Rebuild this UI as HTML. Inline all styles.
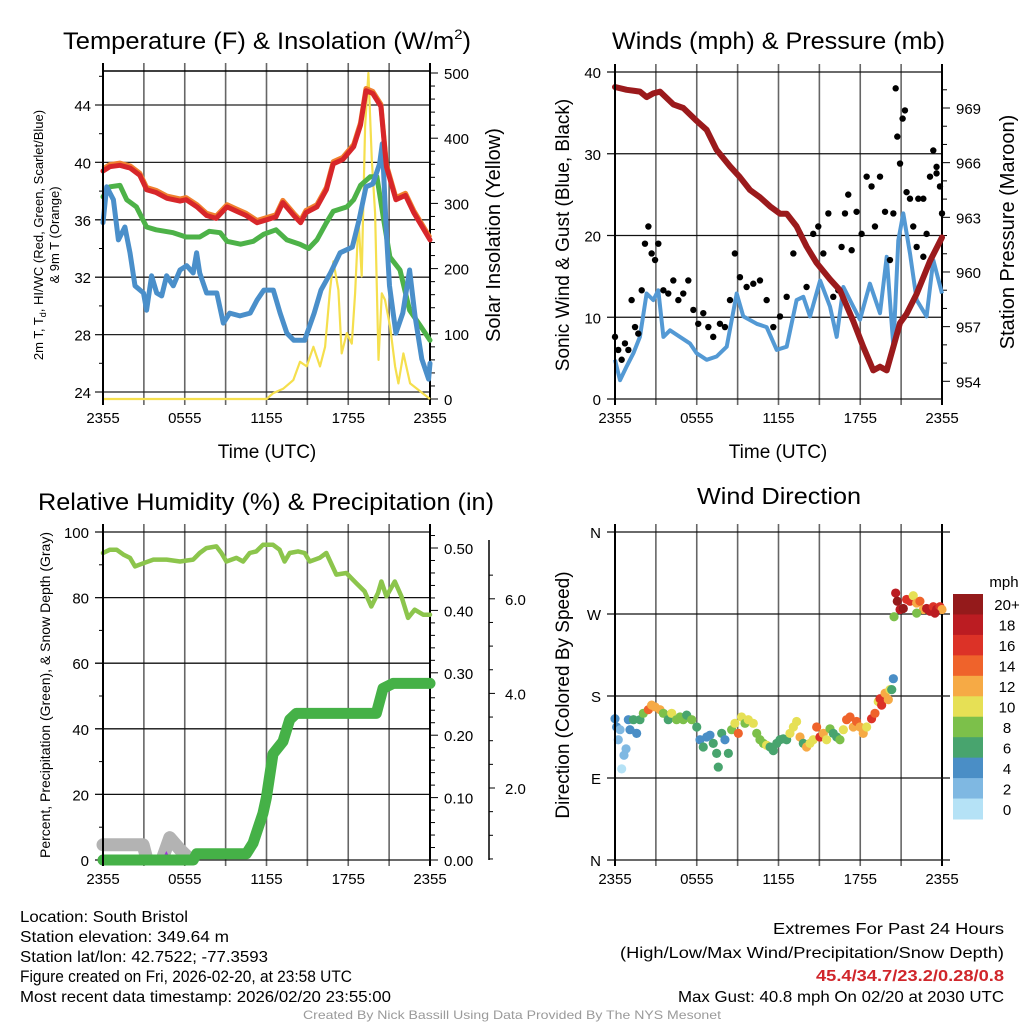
<!DOCTYPE html>
<html><head><meta charset="utf-8"><style>
html,body{margin:0;padding:0;background:#fff;}
svg{display:block;font-family:"Liberation Sans",sans-serif;}
</style></head><body>
<svg id="root" width="1024" height="1024" viewBox="0 0 1024 1024" xmlns="http://www.w3.org/2000/svg">
<defs><clipPath id="clipHum"><rect x="90" y="532" width="340" height="329"/></clipPath></defs>
<rect width="1024" height="1024" fill="#fff"/>
<g fill="#000">
<text x="63" y="49" font-size="24" textLength="408" lengthAdjust="spacingAndGlyphs">Temperature (F) &amp; Insolation (W/m<tspan font-size="14" dy="-10">2</tspan><tspan dy="10">)</tspan></text>
<text x="612" y="49" font-size="24" textLength="333" lengthAdjust="spacingAndGlyphs">Winds (mph) &amp; Pressure (mb)</text>
<text x="38" y="510" font-size="24" textLength="456" lengthAdjust="spacingAndGlyphs">Relative Humidity (%) &amp; Precipitation (in)</text>
<text x="697" y="504" font-size="23" textLength="164" lengthAdjust="spacingAndGlyphs">Wind Direction</text>
</g>
<g fill="#000">
<text x="267" y="458" font-size="19" text-anchor="middle">Time (UTC)</text>
<text x="778" y="458" font-size="19" text-anchor="middle">Time (UTC)</text>
<text transform="translate(43,235) rotate(-90)" font-size="13" text-anchor="middle">2m T, T<tspan font-size="9" dy="3">d</tspan><tspan dy="-3">, HI/WC (Red, Green, Scarlet/Blue)</tspan></text>
<text transform="translate(59,235) rotate(-90)" font-size="13" text-anchor="middle">&amp; 9m T (Orange)</text>
<text transform="translate(500,235) rotate(-90)" font-size="20" text-anchor="middle">Solar Insolation (Yellow)</text>
<text transform="translate(569,235) rotate(-90)" font-size="19" text-anchor="middle">Sonic Wind &amp; Gust (Blue, Black)</text>
<text transform="translate(1014,232) rotate(-90)" font-size="20" text-anchor="middle">Station Pressure (Maroon)</text>
<text transform="translate(50,695) rotate(-90)" font-size="14" text-anchor="middle">Percent, Precipitation (Green), &amp; Snow Depth (Gray)</text>
<text transform="translate(569,695) rotate(-90)" font-size="19" text-anchor="middle">Direction (Colored By Speed)</text>
</g>
<g fill="#000" font-size="16">
<text x="20" y="922" textLength="168" lengthAdjust="spacingAndGlyphs">Location: South Bristol</text>
<text x="20" y="942" textLength="209" lengthAdjust="spacingAndGlyphs">Station elevation: 349.64 m</text>
<text x="20" y="962" textLength="248" lengthAdjust="spacingAndGlyphs">Station lat/lon: 42.7522; -77.3593</text>
<text x="20" y="982" font-size="16.5" textLength="332" lengthAdjust="spacingAndGlyphs">Figure created on Fri, 2026-02-20, at 23:58 UTC</text>
<text x="20" y="1002" textLength="371" lengthAdjust="spacingAndGlyphs">Most recent data timestamp: 2026/02/20 23:55:00</text>
<text x="1004" y="934" text-anchor="end" textLength="231" lengthAdjust="spacingAndGlyphs">Extremes For Past 24 Hours</text>
<text x="1004" y="958" text-anchor="end" textLength="384" lengthAdjust="spacingAndGlyphs">(High/Low/Max Wind/Precipitation/Snow Depth)</text>
<text x="1004" y="981" text-anchor="end" fill="#d0262b" font-weight="bold" textLength="188" lengthAdjust="spacingAndGlyphs">45.4/34.7/23.2/0.28/0.8</text>
<text x="1004" y="1002" text-anchor="end" textLength="326" lengthAdjust="spacingAndGlyphs">Max Gust: 40.8 mph On 02/20 at 2030 UTC</text>
<text x="512" y="1019" text-anchor="middle" fill="#9a9a9a" font-size="12" textLength="418" lengthAdjust="spacingAndGlyphs">Created By Nick Bassill Using Data Provided By The NYS Mesonet</text>
</g>
</svg>
<script>
// ---------- data ----------
const xTickLabels = ["2355","0555","1155","1755","2355"];
const tempTicks = [24,28,32,36,40,44];
const solarTicks = [0,100,200,300,400,500];
const windTicks = [0,10,20,30,40];
const pressTicks = [954,957,960,963,966,969];
const rhTicks = [0,20,40,60,80,100];
const precipTicks = [0.00,0.10,0.20,0.30,0.40,0.50];
const snowTicks = [2.0,4.0,6.0];
const dirLabels = ["N","E","S","W","N"];
const dirTickDeg = [0,90,180,270,360];
const speedBinLabels = ["0","2","4","6","8","10","12","14","16","18","20+"];
const speedBinColors = ["#b5e2f6","#7fb8e2","#4a8ec6","#48a46e","#7cc04a","#e6e055","#f6aa45","#ef632b","#dc3227","#bb1c22","#941a1b"];

const tempHours = [0,0.5,1.25,2,2.7,3.2,3.9,4.7,5.65,6.1,6.9,7.6,8.3,9.1,9.8,10.5,11.3,12,12.7,13.2,14,14.5,14.9,15.7,16.4,16.9,17.6,18.4,18.9,19.3,19.8,20.4,20.8,21.5,22.2,22.8,23.5,24];
const tempVals = [39.4,39.7,39.8,39.6,39.1,38.1,37.9,37.5,37.3,37.4,36.9,36.3,36.1,36.9,36.6,36.3,35.8,36.0,36.2,37.2,36.3,35.8,36.5,36.9,38.1,39.9,40.2,41.1,42.6,45.0,44.8,43.9,39.7,37.4,37.7,36.5,35.4,34.6];
const dewHours = [0,0.5,1.25,1.74,2.45,3.2,3.9,5.15,6.1,7.1,7.8,8.6,9.1,10.1,11.03,11.8,12.7,13.5,14.45,15.1,15.7,16.4,16.9,17.9,18.4,18.9,19.6,20.1,20.6,21.06,21.8,22.5,23.3,24];
const dewVals = [37.6,38.3,38.4,37.4,36.9,35.5,35.3,35.1,34.8,34.8,35.2,35.1,34.5,34.3,34.5,35.0,35.3,34.6,34.3,34.0,34.6,35.8,36.6,36.9,37.4,38.4,39.0,39.0,36.0,33.4,32.5,29.7,28.6,27.6];
const wcHours = [0,0.27,0.76,1.13,1.61,1.98,2.35,2.97,3.2,3.57,3.94,4.31,4.67,5.16,5.65,6.14,6.62,6.87,7.1,7.6,8.35,8.83,9.3,10.05,10.8,11.3,11.8,12.5,13.0,13.5,14.0,14.8,15.5,16.0,16.7,17.4,18.3,18.8,19.3,19.8,20.3,20.5,20.8,21.03,21.5,22.0,22.5,22.9,23.4,23.9,24];
const wcVals = [35.8,38.3,37.4,34.6,35.5,33.7,31.4,30.9,29.7,32.1,30.9,30.7,32.1,31.4,32.5,32.8,32.3,33.7,32.3,30.9,30.9,28.8,29.5,29.3,29.5,30.4,31.1,31.1,29.5,28.1,27.6,27.6,29.5,31.1,32.3,33.7,34.1,36.0,38.3,38.5,39.9,41.3,35.1,31.4,28.1,29.5,32.5,29.3,26.3,24.9,26.0];
const solarHours = [0,12,12.5,13.24,13.97,14.46,14.95,15.44,15.93,16.3,16.66,16.91,17.28,17.52,17.89,18.26,18.5,18.75,18.99,19.24,19.48,19.73,19.97,20.22,20.46,20.7,21.07,21.44,21.68,22.05,22.54,24];
const solarVals = [0,0,9,16,29,57,50,80,50,80,167,211,167,70,101,85,162,275,188,418,500,367,285,60,162,152,111,50,24,70,24,0];
const pressHours = [0,0.86,1.83,2.32,2.81,3.3,4.28,5.01,5.99,6.73,7.46,8.44,9.17,9.91,10.64,11.38,12.11,12.6,13.33,14.06,14.8,15.78,16.51,17.49,18.22,18.96,19.45,19.94,20.43,20.92,21.4,22.14,23.12,24];
const pressVals = [970.15,970.0,969.9,969.6,969.8,969.9,969.2,969.0,968.3,967.8,966.7,965.8,965.2,964.5,964.1,963.6,963.2,963.2,962.5,961.4,960.5,959.6,959.0,957.3,955.9,954.6,954.8,954.6,955.9,957.2,957.7,958.8,960.6,961.9];
const windHours = [0,0.37,0.86,1.35,1.83,2.32,2.81,3.18,3.55,4.04,4.77,5.5,5.99,6.73,7.46,8.2,8.93,9.42,10.4,11.13,11.87,12.6,13.33,13.82,14.31,15.05,15.78,16.27,16.76,17.49,17.98,18.71,19.45,19.94,20.43,20.79,21.16,21.65,22.14,22.87,23.36,24];
const windVals = [4.8,2.3,4.0,5.6,7.6,12.9,12.1,13.3,7.6,8.4,7.6,6.8,5.6,4.8,5.2,6.4,12.9,10.1,9.2,8.8,6.0,6.4,12.1,12.5,10.1,14.5,11.3,7.6,13.7,11.3,9.7,14.1,10.5,17.4,6.4,19.4,22.7,17.8,12.1,10.1,17.0,12.9];
const gustHours = [0,0.24,0.49,0.73,0.98,1.22,1.47,1.71,1.96,2.2,2.45,2.69,2.94,3.18,3.55,3.91,4.28,4.65,5.01,5.38,5.75,6.11,6.48,6.85,7.21,7.7,8.07,8.44,8.8,9.17,9.66,10.15,10.64,11.13,11.62,12.11,12.6,13.09,13.58,14.06,14.55,14.92,15.29,15.66,16.02,16.39,16.63,16.88,17.12,17.37,17.73,18.1,18.47,18.83,19.08,19.45,19.82,20.18,20.43,20.6,20.72,20.92,21.11,21.28,21.4,21.65,21.89,22.26,22.63,22.87,23.12,23.36,23.6,23.85,24,23.6,22.63,22.14];
const gustVals = [7.6,6.0,4.8,6.8,6.0,12.1,8.8,8.0,13.3,19.0,21.1,17.8,17.0,19.0,13.3,12.9,14.5,12.1,12.9,14.5,10.9,9.2,10.5,8.8,7.6,9.2,8.8,12.1,17.8,14.9,13.7,14.1,14.5,12.1,8.8,10.1,12.5,17.8,20.2,13.7,20.2,21.1,17.8,22.7,12.5,13.3,18.6,22.7,25.0,18.2,22.9,20.2,27.2,26.0,21.1,27.2,22.9,17.0,22.7,38.0,32.1,28.8,34.3,35.3,25.3,24.5,21.1,24.5,24.5,20.2,27.2,30.4,27.6,26.0,22.7,28.4,17.4,18.6];
const rhHours = [0,0.51,1.0,1.5,1.98,2.35,2.97,3.7,4.67,5.65,6.62,7.1,7.59,8.32,8.69,9.06,9.79,10.28,10.77,11.25,11.74,12.48,12.96,13.33,13.7,14.31,14.8,15.17,15.9,16.39,17.12,17.86,18.59,19.2,19.69,20.18,20.43,20.8,21.42,21.9,22.39,22.88,23.5,24];
const rhVals = [93.6,94.6,94.6,93.1,92.1,89.5,90.5,91.6,91.6,91.0,91.6,93.6,95.1,95.6,93.6,91.0,92.1,91.0,93.6,94.1,96.1,96.1,94.6,91.0,93.6,94.1,93.6,91.0,92.1,93.6,87.0,87.5,84.4,81.9,77.3,81.4,84.9,80.4,84.9,80.4,73.8,76.3,74.8,74.8];
const precipHours = [0,6.62,6.87,10.52,11.01,11.74,11.99,12.48,13.21,13.7,14.19,20.06,20.55,21.29,24];
const precipVals = [0,0,0.01,0.01,0.027,0.075,0.10,0.17,0.19,0.225,0.235,0.235,0.275,0.283,0.283];
const snowHours = [0,2.94,3.4,4.1,4.9,5.65,6.37,6.6];
const snowVals = [0.8,0.8,0.3,0.3,0.95,0.7,0.5,0.3];
const dirHours = [0,0.12,0.24,0.37,0.49,0.66,0.81,0.98,1.1,1.35,1.59,1.83,2.08,2.45,2.69,2.94,3.3,3.55,3.91,4.16,4.52,4.77,5.01,5.26,5.63,6.0,6.24,6.48,6.73,6.97,7.21,7.46,7.58,7.83,8.07,8.32,8.56,8.8,9.05,9.29,9.54,9.78,10.15,10.4,10.64,10.89,11.13,11.38,11.62,11.87,12.11,12.35,12.6,12.84,13.09,13.33,13.58,13.82,14.06,14.31,14.55,14.8,15.04,15.29,15.53,15.78,16.02,16.27,16.51,16.76,17.0,17.25,17.49,17.73,17.98,18.22,18.47,18.83,19.08,19.32,19.45,19.57,19.82,20.06,20.18,20.31,20.43,20.48,20.6,20.72,20.92,21.16,21.4,21.65,21.89,22.14,22.38,22.63,22.87,23.12,23.36,23.6,23.85,24,23.48,22.14];
const dirVals = [155,146,132,143,100,115,122,154,143,154,139,154,161,165,170,168,165,161,154,161,154,157,154,159,154,146,132,124,135,137,128,117,102,139,132,117,143,150,139,157,150,154,150,139,132,128,126,124,120,128,132,133,132,139,146,152,135,128,124,128,132,146,135,139,132,144,139,135,132,143,154,157,146,152,146,139,146,155,161,174,177,170,183,176,187,187,199,267,293,284,275,276,286,284,290,282,284,275,276,273,278,275,278,275,271,271];
const dirSpeeds = [4,4,2,2,1,3,3,4,4,7,4,7,9,14,12,12,12,8,7,10,8,8,8,7,8,7,5,6,5,5,6,6,6,6,5,6,8,10,14,10,8,10,10,8,9,9,10,7,6,6,6,6,6,10,11,10,12,7,12,11,10,15,16,12,10,9,7,7,8,10,15,15,13,15,12,12,10,16,14,10,17,16,12,12,10,7,4,8,19,20,18,20,17,16,10,12,14,12,19,18,17,19,16,12,18,8];

// ---------- helpers ----------
const NS = "http://www.w3.org/2000/svg";
const root = document.getElementById("root");
function mk(tag, attrs, parent){
  const e = document.createElementNS(NS, tag);
  for (const k in attrs) e.setAttribute(k, attrs[k]);
  (parent||root).appendChild(e);
  return e;
}
function txt(s, attrs, parent){ const e = mk("text", attrs, parent); e.textContent = s; return e; }
function pathFrom(xs, ys){ let d=""; for(let i=0;i<xs.length;i++){ d += (i?"L":"M")+xs[i].toFixed(1)+" "+ys[i].toFixed(1);} return d; }
function timeScale(X0,X1){ return h => X0 + h/24*(X1-X0); }

function drawFrame(g, X0,X1,Y0,Y1, xLabelY){
  const xs = timeScale(X0,X1);
  for(let i=0;i<=8;i++){
    const x = xs(i*3);
    const l = mk("line",{x1:x,x2:x,y1:Y0-8,y2:Y1+6,stroke:(i==0||i==8)?"#000":"#666","stroke-width":(i==0||i==8)?2:1.6},g);
    
    
  }
  for(let i=0;i<xTickLabels.length;i++){
    const t = txt(xTickLabels[i],{x:xs(i*6),y:xLabelY,"font-size":15,"text-anchor":"middle"},g);
    
    
  }
  return xs;
}
function hline(g,y,x1,x2,w,c){
  const l = mk("line",{x1:x1,x2:x2,y1:y,y2:y,stroke:c||"#000","stroke-width":w||1.2},g);
  
  
}

// ---------- Panel 1: temperature ----------
{
  const g = mk("g",{});
  
  
  const X0=103,X1=430,Y0=71,Y1=399;
  const yT = v => 105 + (44-v)*14.35;
  const yS = v => 399 - v*(326/500);
  const xs = drawFrame(g,X0,X1,Y0,Y1,423);
  hline(g,Y0,X0,X1,1.5); hline(g,Y1,X0,X1,1.5);
  for(let v=24; v<=46; v+=2){ const l=mk("line",{x1:X0-(v%4==0?8:4),x2:X0,y1:yT(v),y2:yT(v),stroke:"#000"},g);   }
  tempTicks.forEach(v=>{ hline(g,yT(v),X0-8,X1,1.3,"#222");
    const t=txt(String(v),{x:X0-12,y:yT(v)+6,"font-size":15,"text-anchor":"end"},g);
      });
  for(let v=0; v<=500; v+=20){ const l=mk("line",{x1:X1,x2:X1+(v%100==0?8:5),y1:yS(v),y2:yS(v),stroke:"#000"},g);   }
  solarTicks.forEach(v=>{ const t=txt(String(v),{x:X1+14,y:yS(v)+6,"font-size":15},g);
      });
  mk("line",{x1:X1,x2:X1,y1:Y0-8,y2:Y1,stroke:"#000","stroke-width":2},g);
  const sol = mk("path",{d:pathFrom(solarHours.map(xs),solarVals.map(yS)),fill:"none",stroke:"#f5df4d","stroke-width":2.2,"stroke-linejoin":"round"},g);
   
  const dew = mk("path",{d:pathFrom(dewHours.map(xs),dewVals.map(yT)),fill:"none",stroke:"#4db248","stroke-width":5,"stroke-linejoin":"round","stroke-linecap":"round"},g);
   
  const wc = mk("path",{d:pathFrom(wcHours.map(xs),wcVals.map(yT)),fill:"none",stroke:"#4a8fca","stroke-width":5,"stroke-linejoin":"round","stroke-linecap":"round"},g);
   
  const t9 = mk("path",{d:pathFrom(tempHours.map(xs),tempVals.map(v=>yT(v+0.15))),fill:"none",stroke:"#f0802f","stroke-width":5,"stroke-linejoin":"round"},g);
   
  const t2 = mk("path",{d:pathFrom(tempHours.map(xs),tempVals.map(yT)),fill:"none",stroke:"#d7262a","stroke-width":5,"stroke-linejoin":"round","stroke-linecap":"round"},g);
   
  mk("line",{x1:X0,x2:X0,y1:Y0-8,y2:Y1+6,stroke:"#000","stroke-width":2},g);
}

// ---------- Panel 2: winds ----------
{
  const g = mk("g",{});
  
  
  const X0=615,X1=942,Y0=72,Y1=399;
  const yW = v => 399 - v*8.175;
  const yP = p => 108 + (969-p)*18.22;
  const xs = drawFrame(g,X0,X1,Y0,Y1,423);
  windTicks.forEach(v=>{ hline(g,yW(v),X0-8,X1,1.3,"#111");
    const t=txt(String(v),{x:X0-14,y:yW(v)+6,"font-size":15,"text-anchor":"end"},g);
      });
  for(let p=953; p<=971; p++){ const y=yP(p); if(y<Y0||y>Y1) continue; const l=mk("line",{x1:X1,x2:X1+(p%3==0?8:5),y1:y,y2:y,stroke:"#000"},g);   }
  pressTicks.forEach(v=>{ const t=txt(String(v),{x:X1+14,y:yP(v)+6,"font-size":15},g);
      });
  mk("line",{x1:X1,x2:X1,y1:Y0-8,y2:Y1,stroke:"#000","stroke-width":2},g);
  const w = mk("path",{d:pathFrom(windHours.map(xs),windVals.map(yW)),fill:"none",stroke:"#5399d4","stroke-width":4,"stroke-linejoin":"round"},g);
   
  for(let i=0;i<gustHours.length;i++){
    const c = mk("circle",{cx:xs(gustHours[i]),cy:yW(gustVals[i]),r:3.2,fill:"#000"},g);
    
    
  }
  const p = mk("path",{d:pathFrom(pressHours.map(xs),pressVals.map(yP)),fill:"none",stroke:"#9b1a1c","stroke-width":6,"stroke-linejoin":"round","stroke-linecap":"round"},g);
   
  mk("line",{x1:X0,x2:X0,y1:Y0-8,y2:Y1+6,stroke:"#000","stroke-width":2},g);
}

// ---------- Panel 3: humidity ----------
{
  const g = mk("g",{});
  
  
  const X0=103,X1=430,Y0=532,Y1=860;
  const yR = v => 860 - v*3.28;
  const yPr = v => 860 - v*624;
  const ySn = v => 882.6 - v*47.3;
  const xs = drawFrame(g,X0,X1,Y0,Y1,884);
  for(let v=0; v<=100; v+=10){ const l=mk("line",{x1:X0-(v%20==0?8:4),x2:X0,y1:yR(v),y2:yR(v),stroke:"#000"},g);   }
  rhTicks.forEach(v=>{ hline(g,yR(v),X0-8,X1,1.3,"#111");
    const t=txt(String(v),{x:X0-14,y:yR(v)+6,"font-size":15,"text-anchor":"end"},g);
      });
  for(let k=0;k<=26;k++){ const v=k*0.02; const l=mk("line",{x1:X1,x2:X1+(k%5==0?8:5),y1:yPr(v),y2:yPr(v),stroke:"#000"},g);   }
  precipTicks.forEach(v=>{ const t=txt(v.toFixed(2),{x:X1+14,y:yPr(v)+6,"font-size":15},g);
      });
  mk("line",{x1:X1,x2:X1,y1:Y0-8,y2:Y1,stroke:"#000","stroke-width":2},g);
  const sa = mk("line",{x1:489,x2:489,y1:Y0+8,y2:Y1,stroke:"#000","stroke-width":1.5},g);
   
  for(let k=1;k<=13;k++){ const v=k*0.5; const y=ySn(v); if(y<Y0+8) continue; const l=mk("line",{x1:489,x2:489+(k%4==0?6:4),y1:y,y2:y,stroke:"#000"},g);   }
  snowTicks.forEach(v=>{ const t=txt(v.toFixed(1),{x:505,y:ySn(v)+6,"font-size":15},g);
      });
  const sg = mk("g",{"clip-path":"url(#clipHum)"},g);
   
  const sn = mk("path",{d:pathFrom(snowHours.map(xs),snowVals.map(ySn)),fill:"none",stroke:"#b3b3b3","stroke-width":13,"stroke-linejoin":"round","stroke-linecap":"round"},sg);
   
  const tri = mk("path",{d:`M${xs(4.65)-4} ${yPr(0.008)+4} L${xs(4.65)} ${yPr(0.008)-4} L${xs(4.65)+4} ${yPr(0.008)+4}Z`,fill:"#a030e0"},g);
   
  const pr = mk("path",{d:pathFrom(precipHours.map(xs),precipVals.map(yPr)),fill:"none",stroke:"#45b147","stroke-width":11,"stroke-linejoin":"round","stroke-linecap":"round"},g);
   
  const rh = mk("path",{d:pathFrom(rhHours.map(xs),rhVals.map(yR)),fill:"none",stroke:"#8cc54c","stroke-width":4.5,"stroke-linejoin":"round","stroke-linecap":"round"},g);
   
  mk("line",{x1:X0,x2:X0,y1:Y0-8,y2:Y1+6,stroke:"#000","stroke-width":2},g);
}

// ---------- Panel 4: wind direction ----------
{
  const g = mk("g",{});
  
  
  const X0=615,X1=942,Y0=532,Y1=860;
  const yD = d => 860 - d/360*328;
  const xs = drawFrame(g,X0,X1,Y0,Y1,884);
  dirTickDeg.forEach((d,i)=>{ hline(g,yD(d),X0-8,X1+8,1.3,"#111");
    const t=txt(dirLabels[i],{x:X0-14,y:yD(d)+6,"font-size":15,"text-anchor":"end"},g);
      });
  for(let i=0;i<dirHours.length;i++){
    const bin = Math.max(0,Math.min(10,Math.floor(dirSpeeds[i]/2)));
    const c = mk("circle",{cx:xs(dirHours[i]),cy:yD(dirVals[i]),r:4.6,fill:speedBinColors[bin]},g);
    
    
  }
  mk("line",{x1:X0,x2:X0,y1:Y0-8,y2:Y1+6,stroke:"#000","stroke-width":2},g);
  const cb = mk("g",{},g);
  
  
  const cbTop=594, cbH=225/11;
  const u = txt("mph",{x:1004,y:587,"font-size":15,"text-anchor":"middle"},cb);
   
  for(let i=0;i<11;i++){
    const k = 10-i;
    const r = mk("rect",{x:953,y:cbTop+i*cbH,width:30,height:cbH+0.5,fill:speedBinColors[k]},cb);
    
    
    const t = txt(speedBinLabels[k],{x:1007,y:cbTop+i*cbH+cbH/2+6,"font-size":15,"text-anchor":"middle"},cb);
    
    
  }
}
</script>
</body></html>
